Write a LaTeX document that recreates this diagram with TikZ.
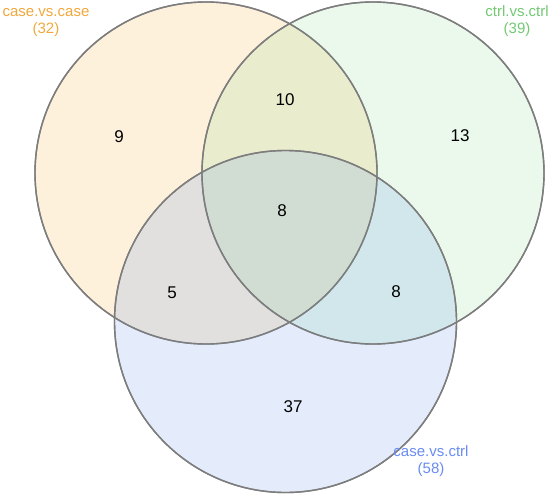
\documentclass[tikz,border=0pt]{standalone}
\usepackage{fontspec}
\setmainfont{Liberation Sans}
\usetikzlibrary{positioning}
\definecolor{caseOrange}{RGB}{245,166,35}
\definecolor{ctrlGreen}{RGB}{110,215,120}
\definecolor{mixBlue}{RGB}{74,130,236}
\definecolor{rimGrey}{RGB}{125,125,125}
\definecolor{ctrlText}{RGB}{115,200,115}
\definecolor{mixText}{RGB}{105,140,240}
\definecolor{caseText}{RGB}{240,168,60}
\tikzset{venn/.style={draw=rimGrey, circle, line width=1.4pt, inner sep=0pt, minimum size=342pt}}
\tikzstyle{num}=[font=\fontsize{17}{19}\selectfont, inner sep=0pt]
\tikzstyle{setname}=[font=\fontsize{15}{17}\selectfont, align=center, inner sep=0pt]

\begin{document}
\begin{tikzpicture}[x=1pt, y=-1pt]
\useasboundingbox (0,0) rectangle (551,495);
\node[venn, fill=caseOrange, fill opacity=0.16] (CC) at (206,173) {};
\node[venn, fill=ctrlGreen, fill opacity=0.14] (TT) at (373,173) {};
\node[venn, fill=mixBlue, fill opacity=0.15] (CT) at (285.5,321.5) {};
% redraw the rims on top of the fills
\node[venn] (CCrim) at (CC) {};
\node[venn] (TTrim) at (TT) {};
\node[venn] (CTrim) at (CT) {};
\node[num] (n9) at (119,137) {9};
\node[num] (n10) at (285,100) {10};
\node[num] (n13) at (460,136) {13};
\node[num] (n8a) at (282,211) {8};
\node[num] (n5) at (172,293) {5};
\node[num] (n8b) at (396,292) {8};
\node[num] (n37) at (293,407) {37};
\node[setname, text=caseText] (lCC) at (46,23) {case.vs.case\\(32)};
\node[setname, text=ctrlText] (lTT) at (517,21) {ctrl.vs.ctrl\\(39)};
\node[setname, text=mixText] (lCT) at (431,461) {case.vs.ctrl\\(58)};
\end{tikzpicture}
\end{document}
